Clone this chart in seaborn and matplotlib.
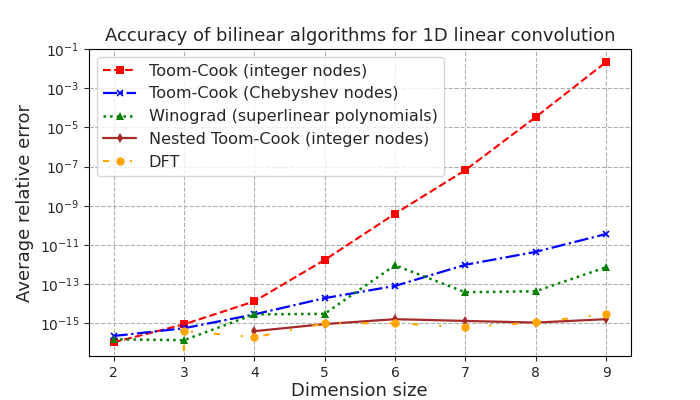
import numpy as np
import matplotlib
matplotlib.use("Agg")
import matplotlib.pyplot as plt
import seaborn as sns

# dimension sizes on the x axis
dims = [2, 3, 4, 5, 6, 7, 8, 9]
nested_dims = [4, 5, 6, 7, 8, 9]

# average relative error per algorithm
toom_int = [1.05e-16, 8.7e-16, 1.3e-14, 1.7e-12, 3.9e-10, 6.6e-8, 3.4e-5, 2.2e-2]
toom_cheb = [2.2e-16, 5.5e-16, 2.8e-15, 1.9e-14, 8.0e-14, 9.6e-13, 4.4e-12, 3.6e-11]
winograd = [1.5e-16, 1.35e-16, 2.8e-15, 3.0e-15, 9.1e-13, 3.8e-14, 4.3e-14, 7.2e-13]
nested_toom = [3.9e-16, 9.0e-16, 1.6e-15, 1.3e-15, 1.07e-15, 1.6e-15]
dft = [0.0, 4.0e-16, 1.9e-16, 9.7e-16, 1.0e-15, 6.1e-16, 1.1e-15, 2.9e-15]

labels = [
    "Toom-Cook (integer nodes)",
    "Toom-Cook (Chebyshev nodes)",
    "Winograd (superlinear polynomials)",
    "Nested Toom-Cook (integer nodes)",
    "DFT",
]

sns.set_style("ticks")
plt.rcParams["font.family"] = ["DejaVu Sans"]

fig, ax = plt.subplots(figsize=(7, 4), dpi=100)
fig.subplots_adjust(left=0.127, right=0.901, top=0.877, bottom=0.11)
ax.set_yscale("log")

sns.lineplot(x=dims, y=toom_int, ax=ax, color="red", linestyle="--",
             marker="s", markersize=6, markeredgewidth=0, lw=1.5,
             label=labels[0], estimator=None)
sns.lineplot(x=dims, y=toom_cheb, ax=ax, color="blue", linestyle="-.",
             marker="x", markersize=5, markeredgewidth=1.2,
             markeredgecolor="blue", lw=1.6,
             label=labels[1], estimator=None)
sns.lineplot(x=dims, y=winograd, ax=ax, color="green", linestyle=":",
             marker="^", markersize=6, markeredgewidth=0, lw=1.8,
             label=labels[2], estimator=None)
sns.lineplot(x=nested_dims, y=nested_toom, ax=ax, color="brown", linestyle="-",
             marker="d", markersize=5, markeredgewidth=0, lw=1.6,
             label=labels[3], estimator=None)
sns.lineplot(x=dims, y=dft, ax=ax, color="orange", linestyle=(0, (3, 10, 1, 10)),
             marker="o", markersize=6, markeredgewidth=0, lw=1.5,
             label=labels[4], estimator=None)

ax.set_xlim(1.65, 9.35)
ax.set_ylim(2.1e-17, 1e-1)
ax.set_yticks([10.0 ** k for k in range(-15, 0, 2)])
ax.minorticks_off()
ax.grid(True, which="major", linestyle="--", color="#b0b0b0", linewidth=0.8)
for s in ax.spines.values():
    s.set_visible(True)
    s.set_color("black")

ax.tick_params(labelsize=10, direction="out", length=3.5, width=0.8)
ax.set_title("Accuracy of bilinear algorithms for 1D linear convolution", fontsize=13)
ax.set_xlabel("Dimension size", fontsize=13, labelpad=2)
ax.set_ylabel("Average relative error", fontsize=13)
ax.legend(loc="upper left", fontsize=11.6, frameon=True, framealpha=0.8,
          edgecolor="#cccccc", borderaxespad=0.5, handlelength=2.0,
          labelspacing=0.48)

fig.savefig("out.png", dpi=100)
